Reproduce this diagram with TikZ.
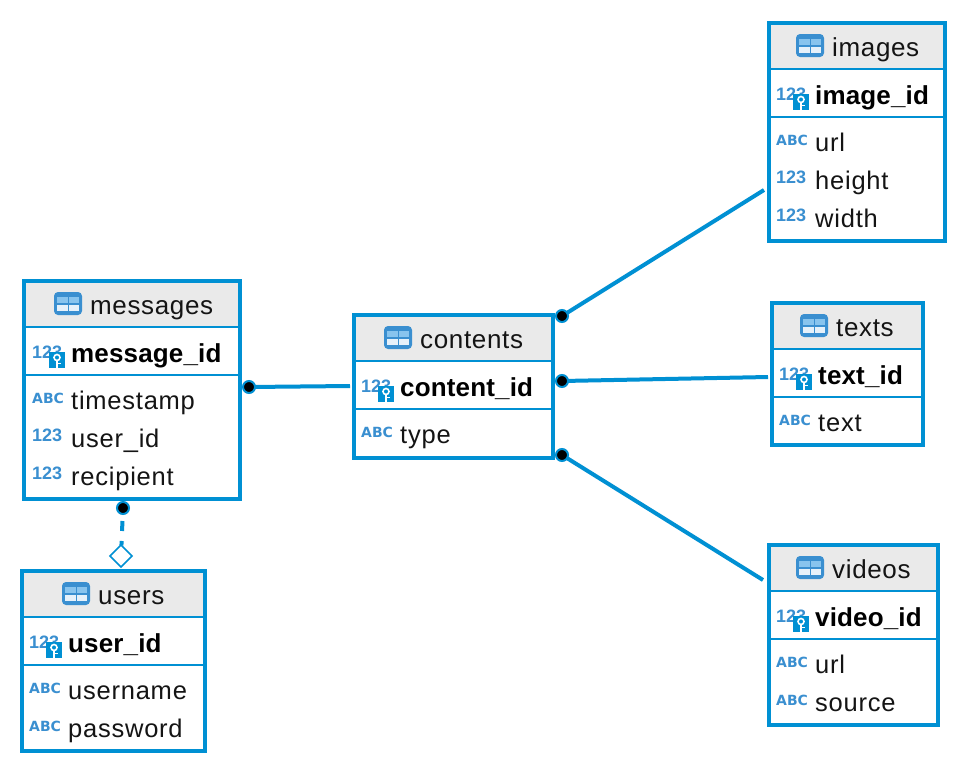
\documentclass[tikz,border=0pt]{standalone}
\usepackage{fontspec}
\setmainfont{Liberation Sans}
\newfontfamily\titlefont[LetterSpace=2.5]{Liberation Sans}
\newfontfamily\colfont[LetterSpace=3]{Liberation Sans}
\newfontfamily\pkfont[LetterSpace=0.6]{Liberation Sans}
\newfontfamily\abcfont{DejaVu Sans}
\usetikzlibrary{shapes.geometric,calc}
\definecolor{frameblue}{HTML}{0090D3}
\definecolor{iconblue}{HTML}{3A8FD0}
\definecolor{iconlight}{HTML}{88C4EE}
\definecolor{iconpale}{HTML}{E6F1FA}
\definecolor{headgrey}{HTML}{EAEAEA}
\tikzset{
  tablebox/.style={draw=frameblue,line width=4pt,inner sep=0pt,outer sep=0pt},
  rowrule/.style={draw=frameblue,line width=2pt},
  titletext/.style={anchor=base west,inner sep=0pt,text=black!92,font=\titlefont\fontsize{26}{30}\selectfont},
  pktext/.style={anchor=base west,inner sep=0pt,text=black,font=\pkfont\fontsize{26}{30}\selectfont\bfseries},
  coltext/.style={anchor=base west,inner sep=0pt,text=black!92,font=\colfont\fontsize{25.5}{30}\selectfont},
  numicon/.style={anchor=base west,inner sep=0pt,text=iconblue,font=\fontsize{18}{20}\selectfont\bfseries},
  abcicon/.style={anchor=base west,inner sep=0pt,text=iconblue,font=\abcfont\fontsize{14}{20}\selectfont\bfseries},
  enddot/.style={circle,fill=black,draw=frameblue,line width=2pt,minimum size=12pt,inner sep=0pt,outer sep=0pt},
  enddiamond/.style={diamond,fill=white,draw=frameblue,line width=1.5pt,minimum width=22pt,minimum height=22pt,inner sep=0pt,outer sep=0pt},
  relation/.style={draw=frameblue,line width=4pt},
  optrelation/.style={relation,dash pattern=on 10pt off 10pt,dash phase=13pt},
}
% table icon: top-left corner at (#1,#2)
\newcommand\tableicon[2]{%
  \fill[iconblue,rounded corners=4pt] (#1,#2) rectangle ++(28,23);
  \fill[iconlight] ($(#1,#2)+(3,5)$) rectangle ++(10.5,6);
  \fill[iconlight] ($(#1,#2)+(14.5,5)$) rectangle ++(10.5,6);
  \fill[iconpale] ($(#1,#2)+(3,12.5)$) rectangle ++(10.5,6);
  \fill[iconpale] ($(#1,#2)+(14.5,12.5)$) rectangle ++(10.5,6);
}
% key icon: top-left corner at (#1,#2)
\newcommand\keyicon[2]{%
  \fill[frameblue] (#1,#2) rectangle ++(16,16);
  \draw[white,line width=1.6pt] ($(#1,#2)+(8,5.5)$) circle[radius=3pt];
  \draw[white,line width=1.8pt] ($(#1,#2)+(8,8.5)$) -- ++(0,7.5);
  \draw[white,line width=1.4pt] ($(#1,#2)+(8,11.5)$) -- ++(3.5,0);
}
\newcommand\txtshift{0}
% id, x0, y0, x1, y1, icon x, title, pk, rows (kind/text)
\newcommand\dbtable[9]{%
  \fill[headgrey] (#2+2,#3+2) rectangle (#4-2,#3+48);
  \node[tablebox,minimum width=#4-#2-4,minimum height=#5-#3-4] (#1) at ({(#2+#4)/2},{(#3+#5)/2}) {};
  \draw[rowrule] (#2+2,#3+48) -- (#4-2,#3+48);
  \draw[rowrule] (#2+2,#3+96) -- (#4-2,#3+96);
  \tableicon{#6}{#3+13}
  \node[titletext] (#1-title) at (#6+36,#3+35) {#7};
  \node[numicon] (#1-pkicon) at (#2+\txtshift+9,#3+79) {123};
  \keyicon{#2+\txtshift+26}{#3+73}
  \node[pktext] (#1-pk) at (#2+\txtshift+48,#3+83) {#8};
  \foreach \kind/\txt [count=\k from 0] in {#9} {
    \node[\kind] (#1-icon\k) at (#2+\txtshift+9,#3+124.5+38*\k) {\ifnum\pdfstrcmp{\kind}{numicon}=0 123\else ABC\fi};
    \node[coltext] (#1-col\k) at (#2+\txtshift+48,#3+130+38*\k) {\txt};
  }
}
\begin{document}
\begin{tikzpicture}[x=1pt,y=-1pt]
\useasboundingbox (0,0) rectangle (968,774);
\fill[white] (0,0) rectangle (968,774);
\renewcommand\txtshift{1}
\dbtable{messages}{22}{279}{242}{501}{54}{messages}{message\_id}{abcicon/timestamp,numicon/user\_id,numicon/recipient}
\renewcommand\txtshift{0}
\dbtable{users}{20}{569}{207}{753}{62}{users}{user\_id}{abcicon/username,abcicon/password}
\dbtable{contents}{352}{313}{555}{460}{384}{contents}{content\_id}{abcicon/type}
\dbtable{images}{767}{21}{947}{243}{796}{images}{image\_id}{abcicon/url,numicon/height,numicon/width}
\dbtable{texts}{770}{301}{925}{447}{800}{texts}{text\_id}{abcicon/text}
\dbtable{videos}{767}{543}{940}{727}{796}{videos}{video\_id}{abcicon/url,abcicon/source}
% relation ends
\coordinate (endimages) at (764,190);
\coordinate (endtexts) at (768,377);
\coordinate (endvideos) at (763,580);
\coordinate (endcontents) at (350,386);
\node[enddot] (dotimages) at (562,316) {};
\node[enddot] (dottexts) at (562,381) {};
\node[enddot] (dotvideos) at (562,455) {};
\node[enddot] (dotmessages) at (249,387) {};
\node[enddot] (dotusers) at (123,508) {};
\node[enddiamond] (diausers) at (121,556) {};
\draw[relation] (dotimages) -- (endimages);
\draw[relation] (dottexts) -- (endtexts);
\draw[relation] (dotvideos) -- (endvideos);
\draw[relation] (dotmessages) -- (endcontents);
\draw[optrelation] (dotusers) -- (diausers);
\end{tikzpicture}
\end{document}
